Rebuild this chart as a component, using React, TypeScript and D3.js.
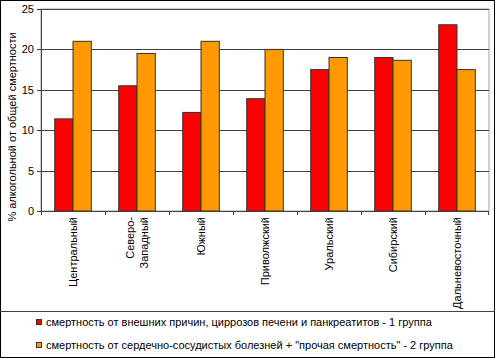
import React from "react";
import * as d3 from "d3";

const categories: string[][] = [
  ["Центральный"],
  ["Северо-", "Западный"],
  ["Южный"],
  ["Приволжский"],
  ["Уральский"],
  ["Сибирский"],
  ["Дальневосточный"],
];
const group1: number[] = [11.4, 15.5, 12.2, 13.9, 17.5, 19.0, 23.05];
const group2: number[] = [21.0, 19.5, 21.0, 20.0, 19.0, 18.65, 17.5];
const seriesNames: string[] = [
  "смертность от внешних причин, циррозов печени и панкреатитов - 1 группа",
  "смертность от сердечно-сосудистых болезней + \"прочая смертность\" - 2 группа",
];
const seriesColors: string[] = ["#FF0000", "#FF9900"];
const yTicks: number[] = [0, 5, 10, 15, 20, 25];
const yLabel = "% алкогольной от общей смертности";

const W = 495;
const H = 358;
const left = 41;
const right = 489;
const top = 9;
const bottom = 211;
const font = "'Liberation Sans', Arial, sans-serif";

export default function App() {
  const idx = categories.map((_, i) => String(i));
  const x = d3.scaleBand<string>().domain(idx).range([left, right]).paddingInner(0).paddingOuter(0);
  const y = d3.scaleLinear().domain([0, 25]).range([bottom, top]);
  const bw = x.bandwidth();
  const barW = bw * 0.286;
  const series = [group1, group2];

  return (
    <svg width={W} height={H} style={{ position: "absolute", left: 0, top: 0, fontFamily: font }}>
      <rect x={0.5} y={0.5} width={W - 1} height={H - 1} fill="#fff" stroke="#000" />
      {/* plot area border */}
      <rect x={left} y={top} width={right - left} height={bottom - top} fill="#fff" stroke="#a0a0a0" />
      {yTicks.filter((t) => t > 0).map((t) => (
        <line key={t} x1={left} x2={right} y1={Math.round(y(t)) + 0.5} y2={Math.round(y(t)) + 0.5} stroke="#404040" strokeWidth={1.2} />
      ))}
      {/* bars */}
      {series.map((vals, s) =>
        vals.map((v, i) => {
          const cx = (x(String(i)) as number) + bw / 2;
          const x0 = cx - barW + s * barW;
          return (
            <rect
              key={`${s}-${i}`}
              x={x0}
              y={y(v)}
              width={barW}
              height={y(0) - y(v)}
              fill={seriesColors[s]}
              stroke="#333"
              strokeWidth={1}
            />
          );
        })
      )}
      {/* axes */}
      <line x1={left + 0.5} x2={left + 0.5} y1={top} y2={bottom} stroke="#404040" />
      <line x1={left} x2={right} y1={bottom + 0.5} y2={bottom + 0.5} stroke="#404040" />
      {yTicks.map((t) => (
        <g key={t}>
          <line x1={left - 4} x2={left} y1={Math.round(y(t)) + 0.5} y2={Math.round(y(t)) + 0.5} stroke="#404040" />
          <text x={34} y={y(t)} dy="0.36em" textAnchor="end" fontSize={11} fill="#000">
            {t}
          </text>
        </g>
      ))}
      {categories.map((_, i) => (
        <line key={i} x1={(x(String(i)) as number) + 0.5} x2={(x(String(i)) as number) + 0.5} y1={bottom} y2={bottom + 4} stroke="#404040" />
      ))}
      <line x1={right - 0.5} x2={right - 0.5} y1={bottom} y2={bottom + 4} stroke="#404040" />
      {categories.map((lines, i) => {
        const cx = (x(String(i)) as number) + bw / 2;
        return lines.map((ln, k) => {
          const lx = cx + (k - (lines.length - 1) / 2) * 14 + 4;
          return (
            <text key={`${i}-${k}`} transform={`translate(${lx},${217}) rotate(-90)`} textAnchor="end" fontSize={11} fill="#000">
              {ln}
            </text>
          );
        });
      })}
      <text transform={`translate(16,127) rotate(-90)`} textAnchor="middle" fontSize={11} fill="#000">
        {yLabel}
      </text>
      {/* legend */}
      <line x1={0} x2={W} y1={311.5} y2={311.5} stroke="#404040" />
      {seriesNames.map((n, s) => (
        <g key={s}>
          <rect x={36.5} y={319.5 + s * 23} width={5} height={5} fill={seriesColors[s]} stroke="#333" />
          <text x={46} y={326 + s * 23} fontSize={11} fill="#000">
            {n}
          </text>
        </g>
      ))}
    </svg>
  );
}
